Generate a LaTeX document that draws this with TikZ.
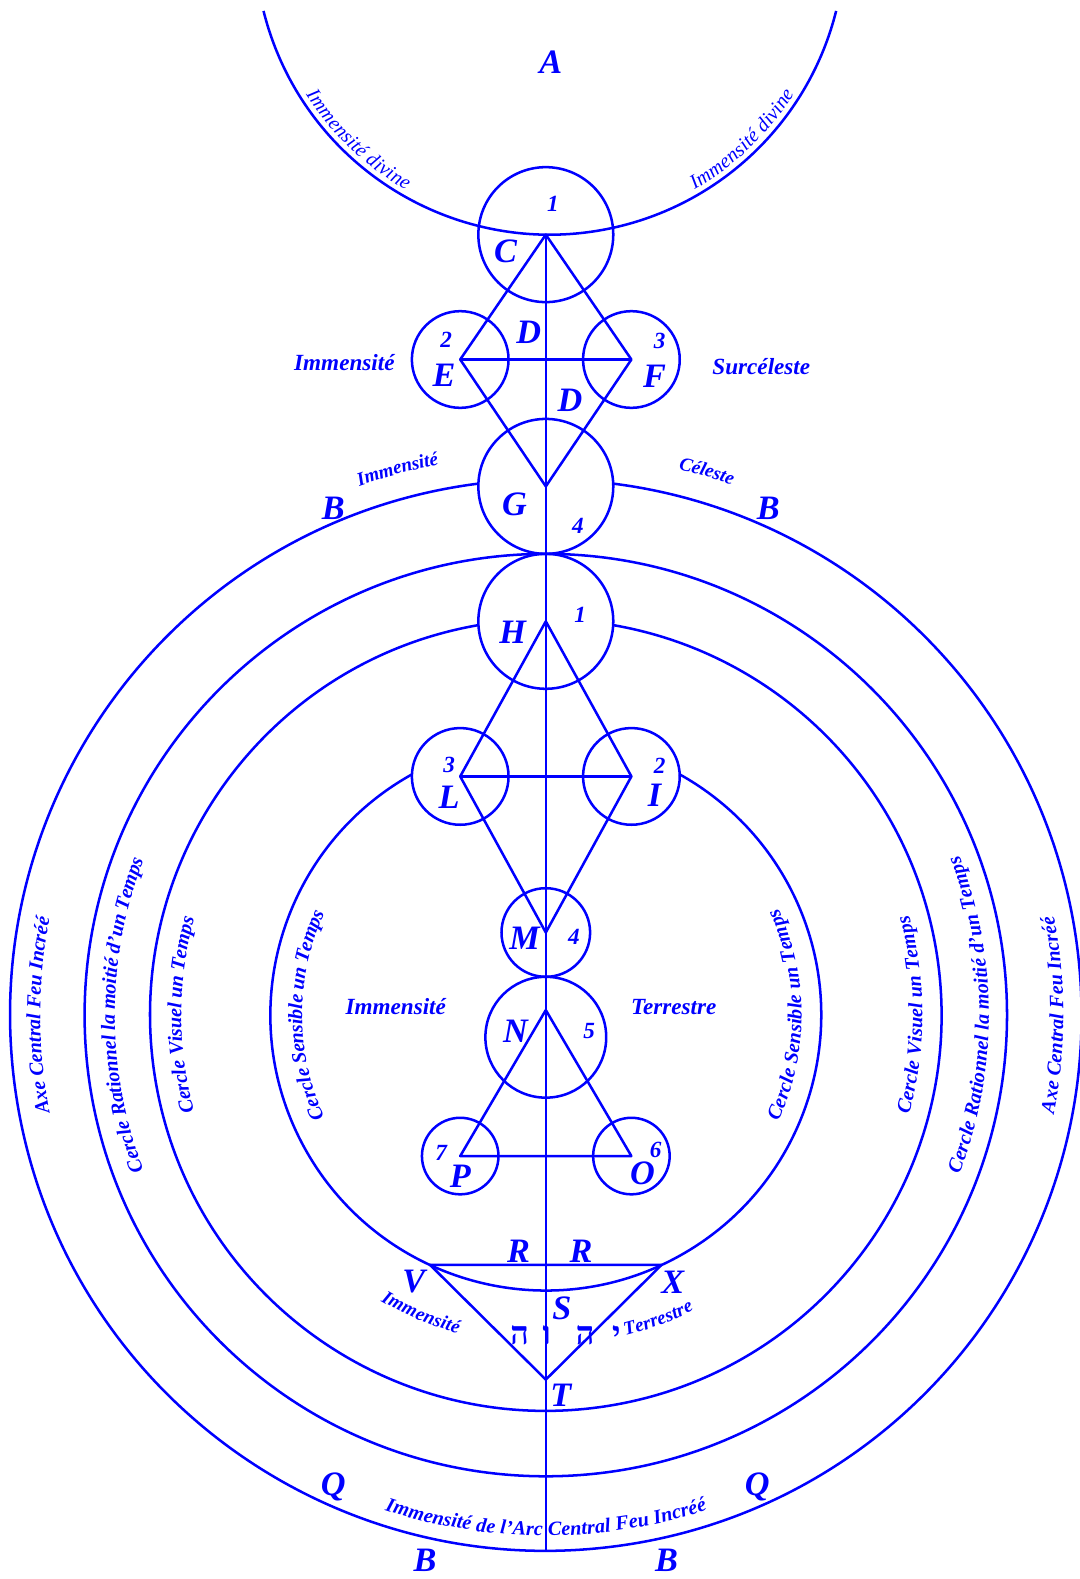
\documentclass[tikz,border=0pt]{standalone}
\usepackage{fontspec}
\setmainfont{Liberation Serif}
\newfontfamily\hebfont[Script=Hebrew]{Liberation Serif}
\usetikzlibrary{decorations.text}
\definecolor{ink}{RGB}{0,0,255}
\newcommand\fLetter{\fontsize{34}{34}\selectfont\bfseries\itshape}
\newcommand\fNum{\fontsize{23}{23}\selectfont\bfseries\itshape}
\newcommand\fWord{\fontsize{23}{23}\selectfont\bfseries\itshape}
\newcommand\fSmall{\fontsize{19}{19}\selectfont\bfseries\itshape\color{ink}}
\newcommand\fCurve{\fontsize{20}{20}\selectfont\bfseries\itshape\color{ink}}
\newcommand\fDiv{\fontsize{20}{20}\selectfont\itshape\color{ink}}
\newcommand\fHeb{\fontsize{32}{32}\selectfont\hebfont\bfseries}
\begin{document}
\begin{tikzpicture}[x=1pt,y=1pt,color=ink,line width=2.5pt,line join=round,
  letter/.style={inner sep=0pt,font=\fLetter},
  numb/.style={inner sep=0pt,font=\fNum},
  word/.style={inner sep=0pt,font=\fWord},
  hebl/.style={inner sep=0pt,font=\fHeb}]
\fill[white] (0,0) rectangle (1072,-1568);
\useasboundingbox (0,0) rectangle (1072,-1568);
% centres
\coordinate (O) at (542,-1008);
\coordinate (Ac) at (546,60);
% vertices
\coordinate (Ct) at (542,-233);
\coordinate (E) at (457,-357);
\coordinate (F) at (627,-357);
\coordinate (Gb) at (542,-483);
\coordinate (H) at (542,-617);
\coordinate (L) at (457,-771);
\coordinate (I) at (627,-771);
\coordinate (Mb) at (542,-926);
\coordinate (Na) at (542,-1003);
\coordinate (P) at (457,-1148);
\coordinate (Oo) at (627,-1148);
\coordinate (V) at (427,-1256);
\coordinate (X) at (657,-1256);
\coordinate (T) at (542,-1370);
\coordinate (Bot) at (542,-1540);
% top arc A
\draw ([shift={(194:293)}]Ac) arc[start angle=194,end angle=346,radius=293];
% small circles
\draw (542,-233) circle[radius=67];
\draw (457,-357) circle[radius=48];
\draw (627,-357) circle[radius=48];
\draw (542,-483) circle[radius=67];
\draw (542,-617) circle[radius=67];
\draw (457,-771) circle[radius=48];
\draw (627,-771) circle[radius=48];
\draw (542,-926) circle[radius=44];
\draw (542,-1030) circle[radius=60];
\draw (457,-1148) circle[radius=38];
\draw (627,-1148) circle[radius=38];
% big circles
\draw ([shift={(97.25:532)}]O) arc[start angle=97.25,end angle=442.75,radius=532];
\draw (O) circle[radius=458];
\draw ([shift={(99.8:393)}]O) arc[start angle=99.8,end angle=440.2,radius=393];
\draw ([shift={(119:273.5)}]O) arc[start angle=119,end angle=421,radius=273.5];
% axis and figures
\draw (Ct) -- (Bot);
\draw (Ct) -- (E) -- (Gb) -- (F) -- cycle;
\draw (E) -- (F);
\draw (H) -- (L) -- (Mb) -- (I) -- cycle;
\draw (L) -- (I);
\draw (Na) -- (P) -- (Oo) -- cycle;
\draw (V) -- (X) -- (T) -- cycle;
% curved texts
\path[decorate,decoration={text along path,text align=center,raise=-6pt,text={|\fDiv|Immensité divine}}] ([shift={(196.3:281)}]Ac) arc[start angle=196.3,end angle=256.3,radius=281];
\path[decorate,decoration={text along path,text align=center,raise=-6pt,text={|\fDiv|Immensité divine}}] ([shift={(283.9:281)}]Ac) arc[start angle=283.9,end angle=343.9,radius=281];
\path[decorate,decoration={text along path,text align=center,raise=-5pt,text={|\fSmall|Immensité}}] ([shift={(135.2:562)}]O) arc[start angle=135.2,end angle=75.2,radius=562];
\path[decorate,decoration={text along path,text align=center,raise=-5pt,text={|\fSmall|Céleste}}] ([shift={(103.5:563)}]O) arc[start angle=103.5,end angle=43.5,radius=563];
\path[decorate,decoration={text along path,text align=center,raise=-6pt,text={|\fCurve|Axe Central Feu Incréé}}] ([shift={(215:508)}]O) arc[start angle=215,end angle=145,radius=508];
\path[decorate,decoration={text along path,text align=center,raise=-6pt,text={|\fCurve|Axe Central Feu Incréé}}] ([shift={(-35:508)}]O) arc[start angle=-35,end angle=35,radius=508];
\path[decorate,decoration={text along path,text align=center,raise=-6pt,text={|\fCurve|Cercle Rationnel la moitié d'un Temps}}] ([shift={(220:434)}]O) arc[start angle=220,end angle=140,radius=434];
\path[decorate,decoration={text along path,text align=center,raise=-6pt,text={|\fCurve|Cercle Rationnel la moitié d'un Temps}}] ([shift={(-40:434)}]O) arc[start angle=-40,end angle=40,radius=434];
\path[decorate,decoration={text along path,text align=center,raise=-6pt,text={|\fCurve|Cercle Visuel un Temps}}] ([shift={(215:368)}]O) arc[start angle=215,end angle=145,radius=368];
\path[decorate,decoration={text along path,text align=center,raise=-6pt,text={|\fCurve|Cercle Visuel un Temps}}] ([shift={(-35:368)}]O) arc[start angle=-35,end angle=35,radius=368];
\path[decorate,decoration={text along path,text align=center,raise=-6pt,text={|\fCurve|Cercle Sensible un Temps}}] ([shift={(230:248)}]O) arc[start angle=230,end angle=130,radius=248];
\path[decorate,decoration={text along path,text align=center,raise=-6pt,text={|\fCurve|Cercle Sensible un Temps}}] ([shift={(-50:248)}]O) arc[start angle=-50,end angle=50,radius=248];
\path[decorate,decoration={text along path,text align=center,raise=-6pt,text={|\fCurve|Immensité de l'Arc Central Feu Incréé}}] ([shift={(225:511)}]O) arc[start angle=225,end angle=315,radius=511];
\path[decorate,decoration={text along path,text align=center,raise=-5pt,text={|\fSmall|Immensité}}] ([shift={(217.3:323)}]O) arc[start angle=217.3,end angle=277.3,radius=323];
\path[decorate,decoration={text along path,text align=center,raise=-5pt,text={|\fSmall|Terrestre}}] ([shift={(260.3:323)}]O) arc[start angle=260.3,end angle=320.3,radius=323];
% letter labels
\node[letter] (lA) at (547,-62) {A};
\node[numb] (n1a) at (549,-202) {1};
\node[letter] (lC) at (502,-250) {C};
\node[letter] (lD1) at (525,-330) {D};
\node[numb] (n2a) at (443,-337) {2};
\node[letter] (lE) at (441,-373) {E};
\node[numb] (n3a) at (655,-339) {3};
\node[letter] (lF) at (650,-374) {F};
\node[letter] (lD2) at (566,-398) {D};
\node[word] (wImm1) at (342,-360) {Immensité};
\node[word] (wSur) at (756,-364) {Surcéleste};
\node[letter] (lB1) at (331,-505) {B};
\node[letter] (lB2) at (763,-505) {B};
\node[letter] (lG) at (511,-501) {G};
\node[numb] (n4a) at (574,-522) {4};
\node[letter] (lH) at (509,-628) {H};
\node[numb] (n1b) at (576,-611) {1};
\node[numb] (n3b) at (446,-760) {3};
\node[letter] (lL) at (446,-792) {L};
\node[numb] (n2b) at (655,-760) {2};
\node[letter] (lI) at (650,-790) {I};
\node[letter] (lM) at (521,-932) {M};
\node[numb] (n4b) at (570,-930) {4};
\node[word] (wImm2) at (393,-1000) {Immensité};
\node[word] (wTer) at (669,-1000) {Terrestre};
\node[letter] (lN) at (512,-1024) {N};
\node[numb] (n5) at (585,-1024) {5};
\node[numb] (n7) at (438,-1145) {7};
\node[letter] (lP) at (457,-1168) {P};
\node[numb] (n6) at (651,-1142) {6};
\node[letter] (lO) at (638,-1165) {O};
\node[letter] (lR1) at (515,-1243) {R};
\node[letter] (lR2) at (577,-1243) {R};
\node[letter] (lV) at (411,-1273) {V};
\node[letter] (lX) at (668,-1273) {X};
\node[letter] (lS) at (558,-1299) {S};
\node[hebl,anchor=base] (h1) at (516,-1335) {ה};
\node[hebl,anchor=base] (h2) at (543,-1335) {ו};
\node[hebl,anchor=base] (h3) at (581,-1335) {ה};
\node[hebl,anchor=base] (h4) at (612,-1335) {י};
\node[letter] (lT) at (557,-1386) {T};
\node[letter] (lQ1) at (331,-1477) {Q};
\node[letter] (lQ2) at (752,-1477) {Q};
\node[letter] (lB3) at (422,-1549) {B};
\node[letter] (lB4) at (662,-1549) {B};
\end{tikzpicture}
\end{document}
